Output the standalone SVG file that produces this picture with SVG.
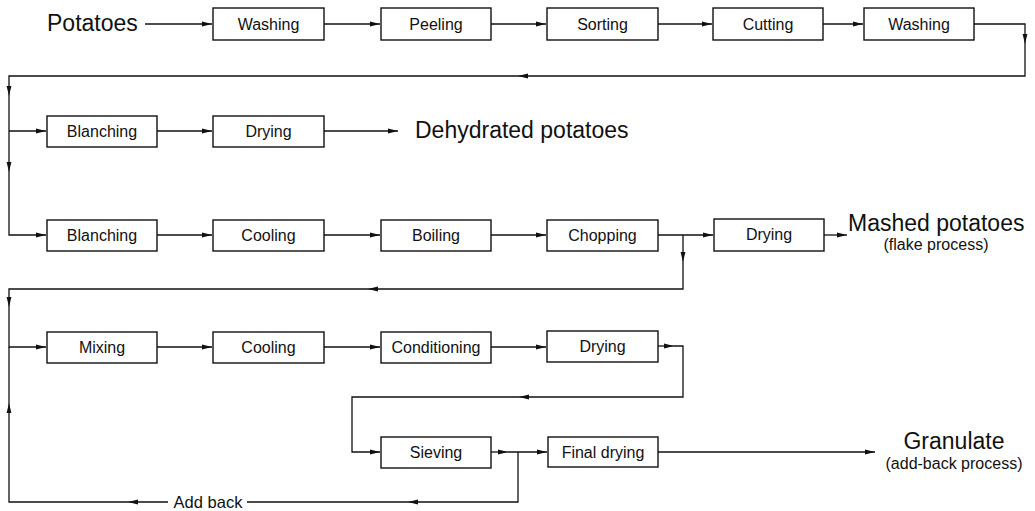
<svg xmlns="http://www.w3.org/2000/svg" width="1035" height="511" viewBox="0 0 1035 511">
<defs>
<marker id="ah" markerUnits="userSpaceOnUse" markerWidth="10" markerHeight="6" viewBox="0 0 10 6" refX="10" refY="3" orient="auto">
<path d="M0,0.6 L10,3 L0,5.4 z" fill="#111"/>
</marker>
</defs>
<style>
.box{fill:#fff;stroke:#111;stroke-width:1.4}
.lbl{font-family:"Liberation Sans",Arial,sans-serif;font-size:16px;fill:#111;text-anchor:middle}
.big{font-family:"Liberation Sans",Arial,sans-serif;font-size:23px;fill:#111}
.sub{font-family:"Liberation Sans",Arial,sans-serif;font-size:16px;fill:#111;text-anchor:middle}
.c path{fill:none;stroke:#111;stroke-width:1.3}
.c path.a{marker-end:url(#ah)}
</style>
<rect width="1035" height="511" fill="#fff"/>
<g class="c" id="connectors">
<path class="a" d="M145,24 H212"/>
<path class="a" d="M324,24 H380"/>
<path class="a" d="M491,24 H546"/>
<path class="a" d="M658,24 H712"/>
<path class="a" d="M823,24 H863"/>
<path class="a" d="M974,24 H1025 V44"/>
<path class="a" d="M1025,44 V76 H518"/>
<path class="a" d="M518,76 H9 V96"/>
<path class="a" d="M9,96 V172"/>
<path class="a" d="M9,172 V235 H46"/>
<path class="a" d="M9,131 H46"/>
<path class="a" d="M157,131 H212"/>
<path class="a" d="M324,131 H398"/>
<path class="a" d="M157,235 H212"/>
<path class="a" d="M324,235 H380"/>
<path class="a" d="M491,235 H546"/>
<path class="a" d="M658,235 H713"/>
<path class="a" d="M824,235 H847"/>
<path class="a" d="M683,235 V262"/>
<path class="a" d="M683,262 V289 H368"/>
<path class="a" d="M368,289 H9 V307"/>
<path class="a" d="M9,307 V347 H46"/>
<path class="a" d="M157,347 H212"/>
<path class="a" d="M324,347 H380"/>
<path class="a" d="M491,347 H546"/>
<path class="a" d="M658,346 H674"/>
<path class="a" d="M674,346 H683 V397 H519"/>
<path class="a" d="M519,397 H352 V452 H380"/>
<path class="a" d="M491,452 H508"/>
<path class="a" d="M508,452 H547"/>
<path class="a" d="M518,452 V502 H408"/>
<path d="M408,502 H247"/>
<path class="a" d="M168,502 H128"/>
<path class="a" d="M128,502 H9 V403"/>
<path d="M9,403 V347"/>
<path class="a" d="M658,452 H875"/>
</g>
<g id="n-potatoes"><text class="big" x="47" y="31">Potatoes</text></g>
<g id="n-washing1"><rect class="box" x="213" y="8" width="111" height="32"/><text class="lbl" x="268.5" y="30">Washing</text></g>
<g id="n-peeling"><rect class="box" x="381" y="8" width="110" height="32"/><text class="lbl" x="436" y="30">Peeling</text></g>
<g id="n-sorting"><rect class="box" x="547" y="8" width="111" height="32"/><text class="lbl" x="602.5" y="30">Sorting</text></g>
<g id="n-cutting"><rect class="box" x="713" y="8" width="110" height="32"/><text class="lbl" x="768" y="30">Cutting</text></g>
<g id="n-washing2"><rect class="box" x="864" y="8" width="110" height="32"/><text class="lbl" x="919" y="30">Washing</text></g>
<g id="n-blanching1"><rect class="box" x="47" y="116" width="110" height="31"/><text class="lbl" x="102" y="137">Blanching</text></g>
<g id="n-drying1"><rect class="box" x="213" y="116" width="111" height="31"/><text class="lbl" x="268.5" y="137">Drying</text></g>
<g id="n-dehydrated"><text class="big" x="415" y="138">Dehydrated potatoes</text></g>
<g id="n-blanching2"><rect class="box" x="47" y="220" width="110" height="31"/><text class="lbl" x="102" y="241">Blanching</text></g>
<g id="n-cooling1"><rect class="box" x="213" y="220" width="111" height="31"/><text class="lbl" x="268.5" y="241">Cooling</text></g>
<g id="n-boiling"><rect class="box" x="381" y="220" width="110" height="31"/><text class="lbl" x="436" y="241">Boiling</text></g>
<g id="n-chopping"><rect class="box" x="547" y="220" width="111" height="31"/><text class="lbl" x="602.5" y="241">Chopping</text></g>
<g id="n-drying2"><rect class="box" x="714" y="219" width="110" height="32"/><text class="lbl" x="769" y="240">Drying</text></g>
<g id="n-mashed"><text class="big" x="848" y="231">Mashed potatoes</text><text class="sub" x="936" y="250">(flake process)</text></g>
<g id="n-mixing"><rect class="box" x="47" y="332" width="110" height="31"/><text class="lbl" x="102" y="353">Mixing</text></g>
<g id="n-cooling2"><rect class="box" x="213" y="332" width="111" height="31"/><text class="lbl" x="268.5" y="353">Cooling</text></g>
<g id="n-conditioning"><rect class="box" x="381" y="332" width="110" height="31"/><text class="lbl" x="436" y="353">Conditioning</text></g>
<g id="n-drying3"><rect class="box" x="547" y="331" width="111" height="31"/><text class="lbl" x="602.5" y="352">Drying</text></g>
<g id="n-sieving"><rect class="box" x="381" y="437" width="110" height="31"/><text class="lbl" x="436" y="458">Sieving</text></g>
<g id="n-finaldrying"><rect class="box" x="548" y="437" width="110" height="30"/><text class="lbl" x="603" y="458">Final drying</text></g>
<g id="n-granulate"><text class="big" x="954" y="449" text-anchor="middle">Granulate</text><text class="sub" x="954" y="469">(add-back process)</text></g>
<g id="n-addback"><text class="lbl" x="208" y="508" style="font-size:16.5px">Add back</text></g>
</svg>
